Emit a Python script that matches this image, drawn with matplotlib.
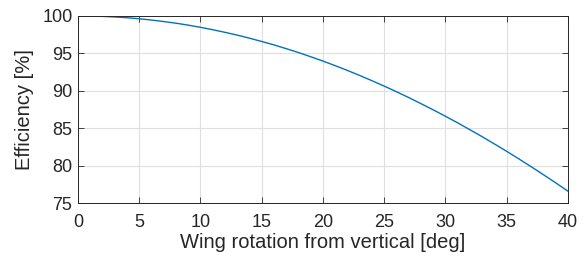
import matplotlib
matplotlib.use("Agg")
import matplotlib.pyplot as plt

# Wing rotation [deg] and efficiency [%]
rotation = list(range(0, 41))
efficiency = [
    100.00, 99.98, 99.94, 99.86, 99.76, 99.62, 99.45, 99.25, 99.03, 98.77,
    98.48, 98.16, 97.81, 97.44, 97.03, 96.59, 96.13, 95.63, 95.11, 94.55,
    93.97, 93.36, 92.72, 92.05, 91.35, 90.63, 89.88, 89.10, 88.29, 87.46,
    86.60, 85.72, 84.80, 83.87, 82.90, 81.92, 80.90, 79.86, 78.80, 77.71,
    76.60,
]
xticks = [0, 5, 10, 15, 20, 25, 30, 35, 40]
yticks = [75, 80, 85, 90, 95, 100]

plt.rcParams["font.family"] = ["Liberation Sans", "DejaVu Sans"]

fig = plt.figure(figsize=(5.86, 2.61), dpi=100)
ax = fig.add_axes([0.133, 0.222, 0.836, 0.717])

ax.plot(rotation, efficiency, color="#0072BD", linewidth=1.0)

ax.set_xlim(0, 40)
ax.set_ylim(75, 100)
ax.set_xticks(xticks)
ax.set_yticks(yticks)
ax.grid(True, color="#dfdfdf", linewidth=0.8)
ax.set_axisbelow(True)
ax.tick_params(direction="in", top=True, right=True, length=4,
               labelsize=13, colors="#262626", width=0.6)
ax.tick_params(axis="x", pad=8)
ax.tick_params(axis="y", pad=4)
for s in ax.spines.values():
    s.set_color("#262626")
    s.set_linewidth(0.7)

ax.set_xlabel("Wing rotation from vertical [deg]", fontsize=14.5, color="#262626", labelpad=1)
ax.set_ylabel("Efficiency [%]", fontsize=14.5, color="#262626", labelpad=6)

fig.savefig("out.png", dpi=100)
